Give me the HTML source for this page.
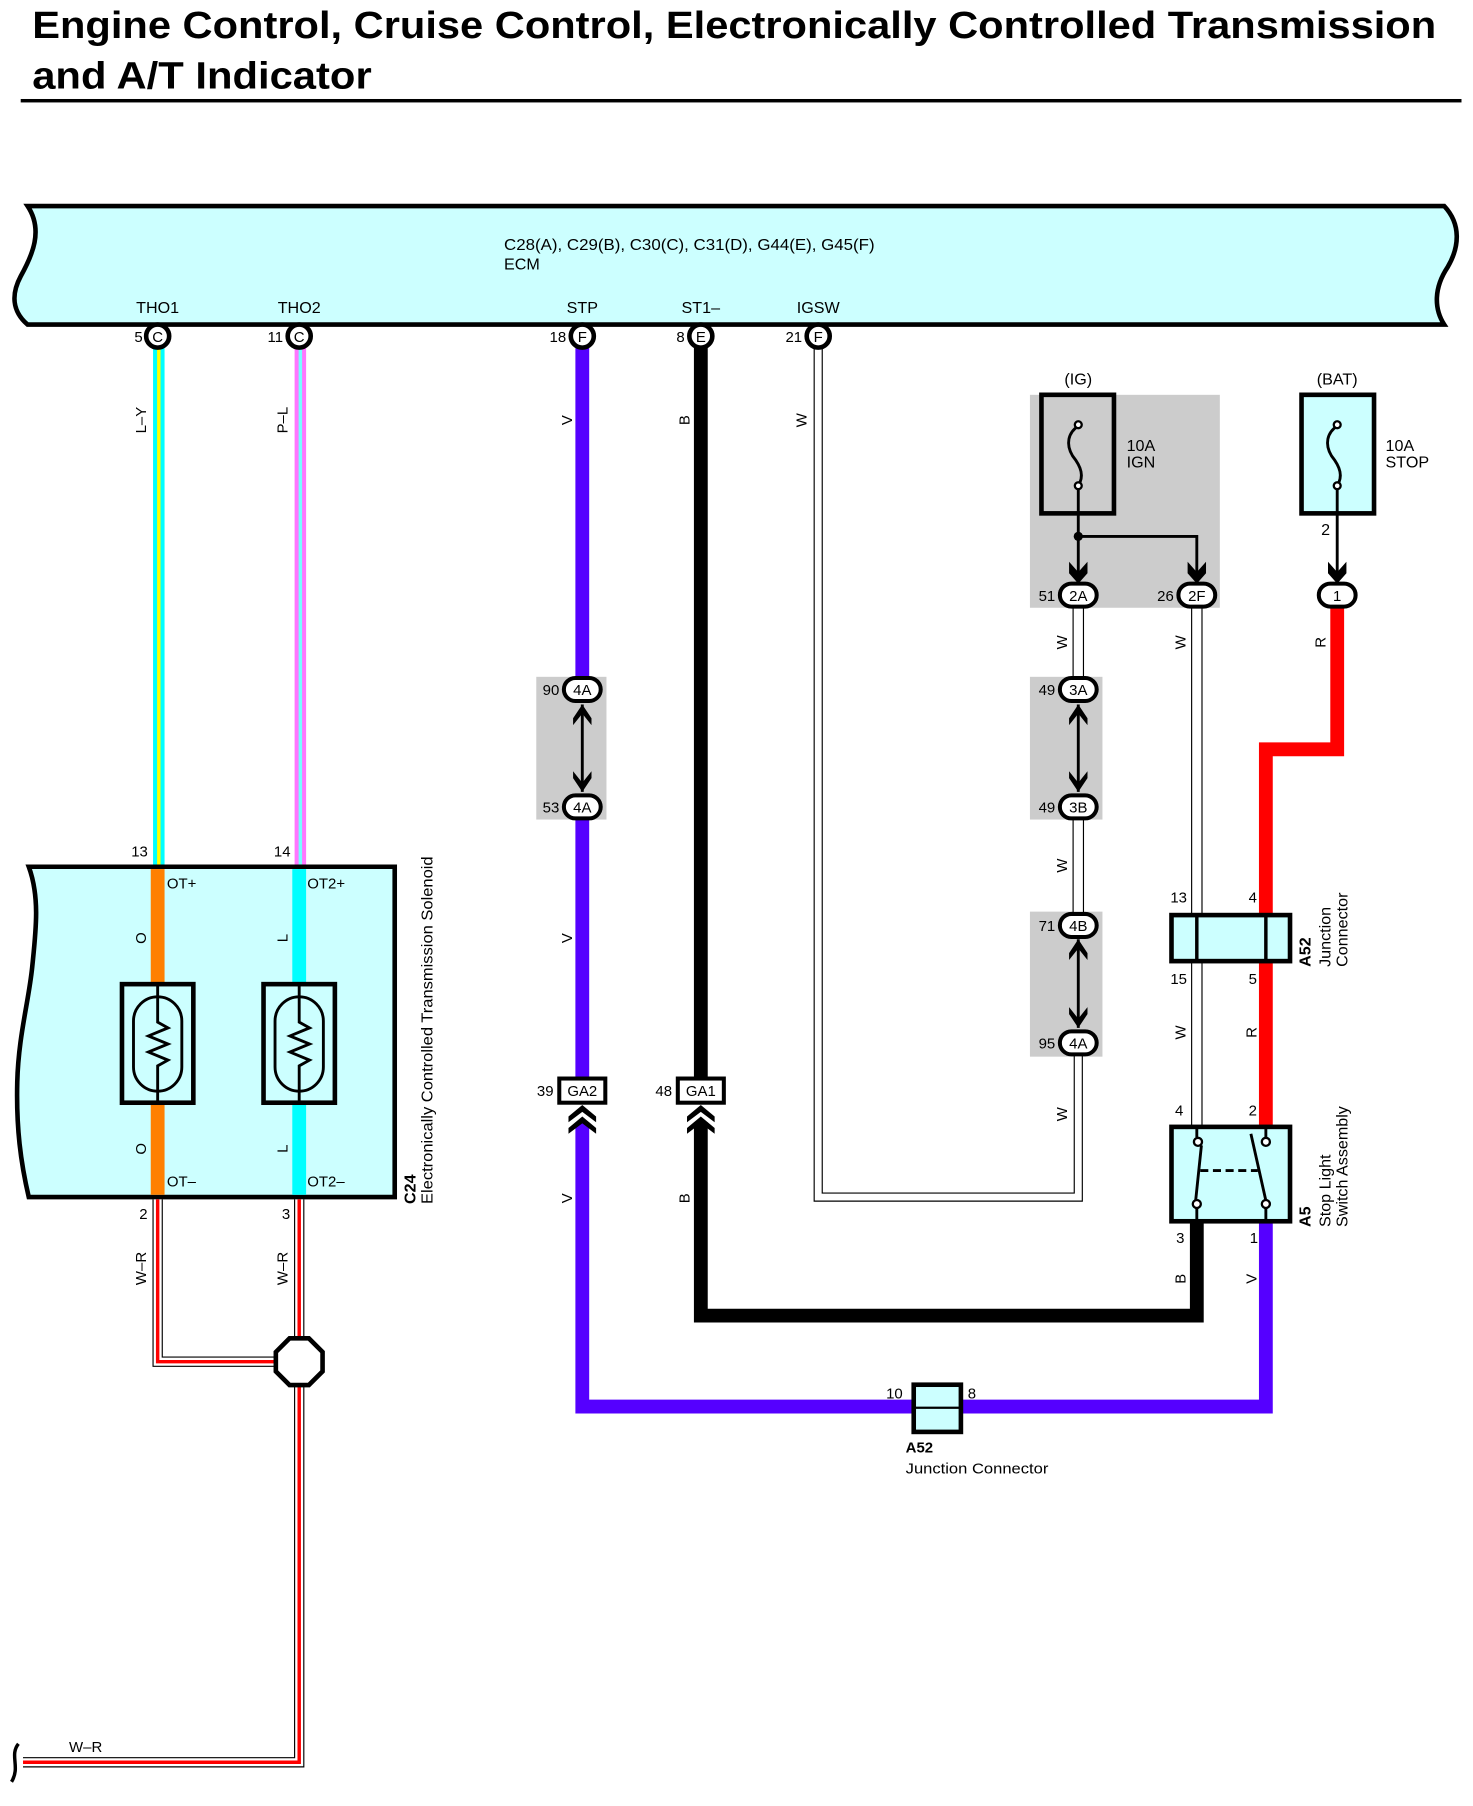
<!DOCTYPE html>
<html><head><meta charset="utf-8"><style>
html,body{margin:0;padding:0;background:#fff}
svg{display:block}
text{font-family:"Liberation Sans",sans-serif;fill:#000}
</style></head><body>
<svg width="1473" height="1806" viewBox="0 0 1280 1569" preserveAspectRatio="none" xmlns="http://www.w3.org/2000/svg">
<!-- Title -->
<text x="28" y="33" font-size="33" font-weight="bold" textLength="1220" lengthAdjust="spacingAndGlyphs">Engine Control, Cruise Control, Electronically Controlled Transmission</text>
<text x="28" y="77" font-size="33" font-weight="bold" textLength="295" lengthAdjust="spacingAndGlyphs">and A/T Indicator</text>
<rect x="18" y="86" width="1252" height="3" fill="#000"/>

<!-- ECM -->
<path d="M24,179 L1255,179 C1270,195 1268,215 1258,232 C1246,250 1246,268 1255,282 L24,282 C10,270 10,255 18,240 C28,222 38,200 24,179 Z" fill="#ccffff" stroke="#000" stroke-width="4"/>
<text x="438" y="217" font-size="14" textLength="322" lengthAdjust="spacingAndGlyphs">C28(A), C29(B), C30(C), C31(D), G44(E), G45(F)</text>
<text x="438" y="234" font-size="14">ECM</text>
<g font-size="14" text-anchor="middle">
<text x="137" y="272">THO1</text><text x="260" y="272">THO2</text><text x="506" y="272">STP</text><text x="609" y="272">ST1–</text><text x="711" y="272">IGSW</text>
</g>

<!-- gray shaded areas -->
<rect x="895" y="343" width="165" height="185" fill="#cccccc"/>
<rect x="466" y="588" width="61" height="124" fill="#cccccc"/>
<rect x="895" y="588" width="63" height="124" fill="#cccccc"/>
<rect x="895" y="792" width="63" height="126" fill="#cccccc"/>

<!-- THO1 L-Y -->
<rect x="133" y="300" width="10" height="455" fill="#00ffff"/>
<rect x="136.5" y="300" width="3" height="455" fill="#ffff00"/>
<!-- THO2 P-L -->
<rect x="256" y="300" width="10" height="455" fill="#ff77ff"/>
<rect x="259.5" y="300" width="3" height="455" fill="#77ffff"/>

<!-- STP violet -->
<g stroke="#5500ff" stroke-width="12" fill="none">
<line x1="506" y1="300" x2="506" y2="590"/>
<line x1="506" y1="710" x2="506" y2="937"/>
<polyline points="506,975 506,1222 1100,1222 1100,1062"/>
</g>
<!-- ST1- black -->
<g stroke="#000" stroke-width="12" fill="none">
<line x1="609" y1="300" x2="609" y2="937"/>
<polyline points="609,975 609,1143 1040,1143 1040,1062"/>
</g>
<!-- IGSW white -->
<g fill="none">
<polyline points="711,300 711,1040 937,1040 937,916" stroke="#000" stroke-width="8"/>
<polyline points="711,300 711,1040 937,1040 937,916" stroke="#fff" stroke-width="6"/>
</g>
<!-- W wires right -->
<g fill="none">
<g stroke="#000" stroke-width="10">
<line x1="937" y1="527" x2="937" y2="590"/><line x1="937" y1="710" x2="937" y2="795"/>
<line x1="1040" y1="527" x2="1040" y2="795"/><line x1="1040" y1="835" x2="1040" y2="980"/>
</g>
<g stroke="#fff" stroke-width="8">
<line x1="937" y1="527" x2="937" y2="590"/><line x1="937" y1="710" x2="937" y2="795"/>
<line x1="1040" y1="527" x2="1040" y2="795"/><line x1="1040" y1="835" x2="1040" y2="980"/>
</g>
</g>
<!-- red -->
<polyline points="1162,527 1162,651 1100,651 1100,980" stroke="#ff0000" stroke-width="12" fill="none"/>

<!-- double-arrow links -->
<g stroke="#000" stroke-width="2.5">
<line x1="506" y1="612" x2="506" y2="688"/><line x1="937" y1="612" x2="937" y2="688"/><line x1="937" y1="816" x2="937" y2="893"/>
</g>
<g fill="#000">
<polygon points="498,624 506,612 514,624 514,630 506,620 498,630"/><polygon points="498,676 506,688 514,676 514,670 506,680 498,670"/>
<polygon points="929,624 937,612 945,624 945,630 937,620 929,630"/><polygon points="929,676 937,688 945,676 945,670 937,680 929,670"/>
<polygon points="929,828 937,816 945,828 945,834 937,824 929,834"/><polygon points="929,881 937,893 945,881 945,875 937,885 929,875"/>
</g>

<!-- ECM connectors -->
<g fill="#fff" stroke="#000" stroke-width="4">
<circle cx="137" cy="292" r="10"/><circle cx="260" cy="292" r="10"/><circle cx="506" cy="292" r="10"/><circle cx="609" cy="292" r="10"/><circle cx="711" cy="292" r="10"/>
</g>
<g font-size="13" text-anchor="middle">
<text x="137" y="297">C</text><text x="260" y="297">C</text><text x="506" y="297">F</text><text x="609" y="297">E</text><text x="711" y="297">F</text>
</g>
<g font-size="13" text-anchor="end">
<text x="124" y="297">5</text><text x="246" y="297">11</text><text x="492" y="297">18</text><text x="595" y="297">8</text><text x="697" y="297">21</text>
</g>

<!-- pill connectors -->
<g fill="#fff" stroke="#000" stroke-width="3.5">
<rect x="490" y="589" width="32" height="20" rx="10"/><rect x="490" y="691" width="32" height="20" rx="10"/>
<rect x="921" y="589" width="32" height="20" rx="10"/><rect x="921" y="691" width="32" height="20" rx="10"/>
<rect x="921" y="794" width="32" height="20" rx="10"/><rect x="921" y="896" width="32" height="20" rx="10"/>
<rect x="921" y="507" width="32" height="20" rx="10"/><rect x="1024" y="507" width="32" height="20" rx="10"/>
<rect x="1146" y="507" width="32" height="20" rx="10"/>
</g>
<g font-size="13" text-anchor="middle">
<text x="506" y="604">4A</text><text x="506" y="706">4A</text>
<text x="937" y="604">3A</text><text x="937" y="706">3B</text>
<text x="937" y="809">4B</text><text x="937" y="911">4A</text>
<text x="937" y="522">2A</text><text x="1040" y="522">2F</text><text x="1162" y="522">1</text>
</g>
<g font-size="13" text-anchor="end">
<text x="486" y="604">90</text><text x="486" y="706">53</text>
<text x="917" y="604">49</text><text x="917" y="706">49</text>
<text x="917" y="809">71</text><text x="917" y="911">95</text>
<text x="917" y="522">51</text><text x="1020" y="522">26</text>
</g>

<!-- fuses -->
<rect x="905" y="343" width="63" height="103" fill="none" stroke="#000" stroke-width="4"/>
<rect x="1131" y="343" width="63" height="103" fill="#ccffff" stroke="#000" stroke-width="4"/>
<g fill="none" stroke="#000" stroke-width="2.5">
<path d="M937,370 C928,376 926,386 932,396 C940,406 942,414 937,422"/>
<path d="M1162,370 C1153,376 1151,386 1157,396 C1165,406 1167,414 1162,422"/>
<polyline points="937,422 937,500"/><polyline points="937,466 1040,466 1040,500"/>
<line x1="1162" y1="422" x2="1162" y2="500"/>
</g>
<g fill="#fff" stroke="#000" stroke-width="2">
<circle cx="937" cy="369" r="3"/><circle cx="937" cy="422" r="3"/><circle cx="1162" cy="369" r="3"/><circle cx="1162" cy="422" r="3"/>
</g>
<circle cx="937" cy="466" r="4" fill="#000"/>
<g fill="#000">
<polygon points="929,488 937,497 945,488 945,498 937,507 929,498"/>
<polygon points="1032,488 1040,497 1048,488 1048,498 1040,507 1032,498"/>
<polygon points="1154,488 1162,497 1170,488 1170,498 1162,507 1154,498"/>
</g>
<g font-size="14">
<text x="937" y="334" text-anchor="middle">(IG)</text><text x="1162" y="334" text-anchor="middle">(BAT)</text>
<text x="979" y="392">10A</text><text x="979" y="406">IGN</text>
<text x="1204" y="392">10A</text><text x="1204" y="406">STOP</text>
<text x="1148" y="465">2</text>
</g>

<!-- solenoid -->
<path d="M25,753 L343,753 L343,1040 L25,1040 C18,1010 14,980 15,940 C16,900 25,870 28,840 C31,810 35,780 25,753 Z" fill="#ccffff" stroke="#000" stroke-width="4"/>
<rect x="131" y="755" width="12" height="100" fill="#ff8000"/><rect x="131" y="958" width="12" height="80" fill="#ff8000"/>
<rect x="254" y="755" width="12" height="100" fill="#00ffff"/><rect x="254" y="958" width="12" height="80" fill="#00ffff"/>
<g fill="none" stroke="#000" stroke-width="4">
<rect x="106" y="855" width="62" height="103"/><rect x="229" y="855" width="62" height="103"/>
</g>
<g fill="none" stroke="#000" stroke-width="2.5">
<rect x="116" y="866" width="42" height="82" rx="21"/><rect x="239" y="866" width="42" height="82" rx="21"/>
<polyline points="137,855 137,888 146,893 129,900 146,907 129,914 146,921 137,926 137,958"/>
<polyline points="260,855 260,888 269,893 252,900 269,907 252,914 269,921 260,926 260,958"/>
</g>
<g font-size="13">
<text x="145" y="772">OT+</text><text x="267" y="772">OT2+</text>
<text x="145" y="1031">OT–</text><text x="267" y="1031">OT2–</text>
<text x="114" y="744">13</text><text x="238" y="744">14</text>
<text x="121" y="1059">2</text><text x="245" y="1059">3</text>
</g>

<!-- W-R wires -->
<g fill="none">
<g stroke="#000" stroke-width="9"><polyline points="137,1042 137,1183 245,1183"/><polyline points="260,1042 260,1165"/><polyline points="260,1200 260,1531 20,1531"/></g>
<g stroke="#fff" stroke-width="7"><polyline points="137,1042 137,1183 245,1183"/><polyline points="260,1042 260,1165"/><polyline points="260,1200 260,1531 20,1531"/></g>
<g stroke="#ff0000" stroke-width="3"><polyline points="137,1042 137,1183 245,1183"/><polyline points="260,1042 260,1165"/><polyline points="260,1200 260,1531 20,1531"/></g>
</g>
<polygon points="280.3,1174.6 268.4,1162.7 251.6,1162.7 239.7,1174.6 239.7,1191.4 251.6,1203.3 268.4,1203.3 280.3,1191.4" fill="#fff" stroke="#000" stroke-width="4"/>
<path d="M16,1515 C8,1525 18,1535 10,1548" fill="none" stroke="#000" stroke-width="3"/>
<text x="60" y="1522" font-size="13">W–R</text>

<!-- GA connectors -->
<g fill="#fff" stroke="#000" stroke-width="3.5">
<rect x="486" y="937" width="40" height="21"/><rect x="589" y="937" width="40" height="21"/>
</g>
<g font-size="13" text-anchor="middle"><text x="506" y="952">GA2</text><text x="609" y="952">GA1</text></g>
<g font-size="13" text-anchor="end"><text x="481" y="952">39</text><text x="584" y="952">48</text></g>
<g fill="#000">
<polygon points="494,970 506,960 518,970 518,975 506,966 494,975"/><polygon points="494,980 506,970 518,980 518,985 506,976 494,985"/>
<polygon points="597,970 609,960 621,970 621,975 609,966 597,975"/><polygon points="597,980 609,970 621,980 621,985 609,976 597,985"/>
</g>

<!-- A52 right -->
<rect x="1018" y="795" width="103" height="40" fill="#ccffff" stroke="#000" stroke-width="4"/>
<line x1="1040" y1="795" x2="1040" y2="835" stroke="#000" stroke-width="3"/>
<line x1="1100" y1="795" x2="1100" y2="835" stroke="#000" stroke-width="3"/>
<g font-size="13">
<text x="1017" y="784">13</text><text x="1085" y="784">4</text>
<text x="1017" y="855">15</text><text x="1085" y="855">5</text>
<text x="1021" y="969">4</text><text x="1085" y="969">2</text>
<text x="1022" y="1080">3</text><text x="1086" y="1080">1</text>
</g>
<!-- A5 switch -->
<rect x="1018" y="979" width="103" height="82" fill="#ccffff" stroke="#000" stroke-width="4"/>
<g stroke="#000" stroke-width="2.5" fill="none">
<line x1="1040" y1="979" x2="1040" y2="988"/><line x1="1040" y1="1049" x2="1040" y2="1061"/>
<line x1="1100" y1="979" x2="1100" y2="988"/><line x1="1100" y1="1049" x2="1100" y2="1061"/>
<line x1="1039" y1="1043" x2="1044" y2="995"/>
<line x1="1100" y1="1043" x2="1087" y2="985"/>
<line x1="1043" y1="1017" x2="1093" y2="1017" stroke-dasharray="7,4"/>
</g>
<g fill="#fff" stroke="#000" stroke-width="2">
<circle cx="1041" cy="992" r="3.5"/><circle cx="1040" cy="1046" r="3.5"/><circle cx="1100" cy="992" r="3.5"/><circle cx="1100" cy="1046" r="3.5"/>
</g>
<!-- A52 bottom -->
<rect x="794" y="1203" width="41" height="41" fill="#ccffff" stroke="#000" stroke-width="4"/>
<line x1="794" y1="1223" x2="835" y2="1223" stroke="#000" stroke-width="2"/>
<g font-size="13"><text x="770" y="1215">10</text><text x="841" y="1215">8</text>
<text x="787" y="1262" font-weight="bold">A52</text><text x="787" y="1280" textLength="124" lengthAdjust="spacingAndGlyphs">Junction Connector</text></g>

<!-- rotated labels -->
<g font-size="13" text-anchor="middle">
<text transform="translate(127,365) rotate(-90)">L–Y</text>
<text transform="translate(250,365) rotate(-90)">P–L</text>
<text transform="translate(497,365) rotate(-90)">V</text>
<text transform="translate(599,365) rotate(-90)">B</text>
<text transform="translate(701,365) rotate(-90)">W</text>
<text transform="translate(927,558) rotate(-90)">W</text>
<text transform="translate(1030,558) rotate(-90)">W</text>
<text transform="translate(1152,558) rotate(-90)">R</text>
<text transform="translate(927,752) rotate(-90)">W</text>
<text transform="translate(497,815) rotate(-90)">V</text>
<text transform="translate(927,968) rotate(-90)">W</text>
<text transform="translate(1030,897) rotate(-90)">W</text>
<text transform="translate(1092,897) rotate(-90)">R</text>
<text transform="translate(497,1041) rotate(-90)">V</text>
<text transform="translate(599,1041) rotate(-90)">B</text>
<text transform="translate(127,1102) rotate(-90)">W–R</text>
<text transform="translate(250,1102) rotate(-90)">W–R</text>
<text transform="translate(1030,1111) rotate(-90)">B</text>
<text transform="translate(1092,1111) rotate(-90)">V</text>
<text transform="translate(127,815) rotate(-90)">O</text>
<text transform="translate(250,815) rotate(-90)">L</text>
<text transform="translate(127,998) rotate(-90)">O</text>
<text transform="translate(250,998) rotate(-90)">L</text>
</g>
<g font-size="14">
<text transform="translate(361,1046) rotate(-90)" font-weight="bold">C24</text>
<text transform="translate(376,1046) rotate(-90)" textLength="302" lengthAdjust="spacingAndGlyphs">Electronically Controlled Transmission Solenoid</text>
<text transform="translate(1139,840) rotate(-90)" font-weight="bold">A52</text>
<text transform="translate(1156,840) rotate(-90)">Junction</text>
<text transform="translate(1171,840) rotate(-90)">Connector</text>
<text transform="translate(1139,1066) rotate(-90)" font-weight="bold">A5</text>
<text transform="translate(1156,1066) rotate(-90)">Stop Light</text>
<text transform="translate(1171,1066) rotate(-90)">Switch Assembly</text>
</g>
</svg>
</body></html>
